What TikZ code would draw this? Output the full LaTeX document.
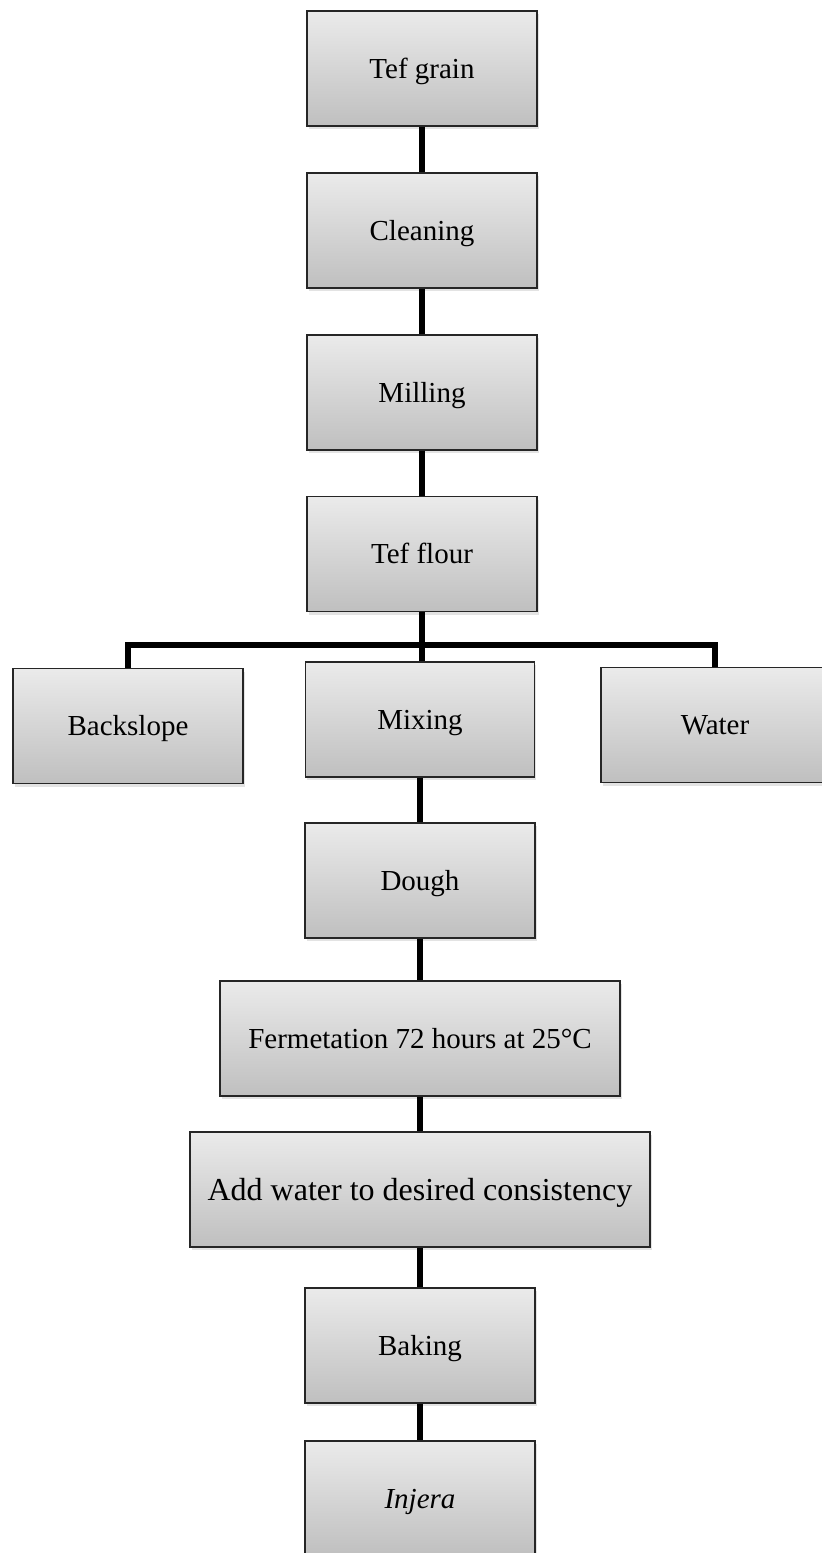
\documentclass[tikz,border=0pt]{standalone}
\usepackage{fontspec}
\setmainfont{Liberation Serif}
\usetikzlibrary{shadows}
\begin{document}
\begin{tikzpicture}[x=1pt,y=-1pt,
  stepbox/.style={draw=black!85, line width=1.3pt, rectangle, inner sep=0pt,
    minimum width=230pt, minimum height=115pt,
    top color=gray!16, bottom color=gray!50,
    drop shadow={opacity=0.22, shadow xshift=1.5pt, shadow yshift=-3pt},
    font=\fontsize{29}{34}\selectfont, text height=19pt, text depth=0pt},
  link/.style={line width=6pt, black}]
\useasboundingbox (0,0) rectangle (822,1553);
\node[stepbox] (grain) at (422,68.5) {Tef grain};
\node[stepbox] (clean) at (422,230.5) {Cleaning};
\node[stepbox] (mill) at (422,392.5) {Milling};
\node[stepbox] (flour) at (422,554) {Tef flour};
\node[stepbox] (back) at (128,726) {Backslope};
\node[stepbox, minimum width=229pt] (mix) at (420,719.5) {Mixing};
\node[stepbox, minimum width=228pt] (water) at (715,725) {Water};
\node[stepbox] (dough) at (420,880.5) {Dough};
\node[stepbox, minimum width=400pt] (ferm) at (420,1038.5) {Fermetation 72 hours at 25°C};
\node[stepbox, minimum width=460pt, font=\fontsize{32}{38}\selectfont, text height=21pt] (addw) at (420,1189.5) {Add water to desired consistency};
\node[stepbox] (bake) at (420,1345.5) {Baking};
\node[stepbox] (injera) at (420,1498.5) {\itshape Injera};
\coordinate (bar) at (422,645);
\draw[link] (grain.south) -- (clean.north);
\draw[link] (clean.south) -- (mill.north);
\draw[link] (mill.south) -- (flour.north);
\draw[link] (flour.south) -- (bar) -- (bar |- mix.north);
\draw[link] (back.north) |- (bar) -| (water.north);
\draw[link] (mix.south) -- (dough.north);
\draw[link] (dough.south) -- (ferm.north);
\draw[link] (ferm.south) -- (addw.north);
\draw[link] (addw.south) -- (bake.north);
\draw[link] (bake.south) -- (injera.north);
\end{tikzpicture}
\end{document}
